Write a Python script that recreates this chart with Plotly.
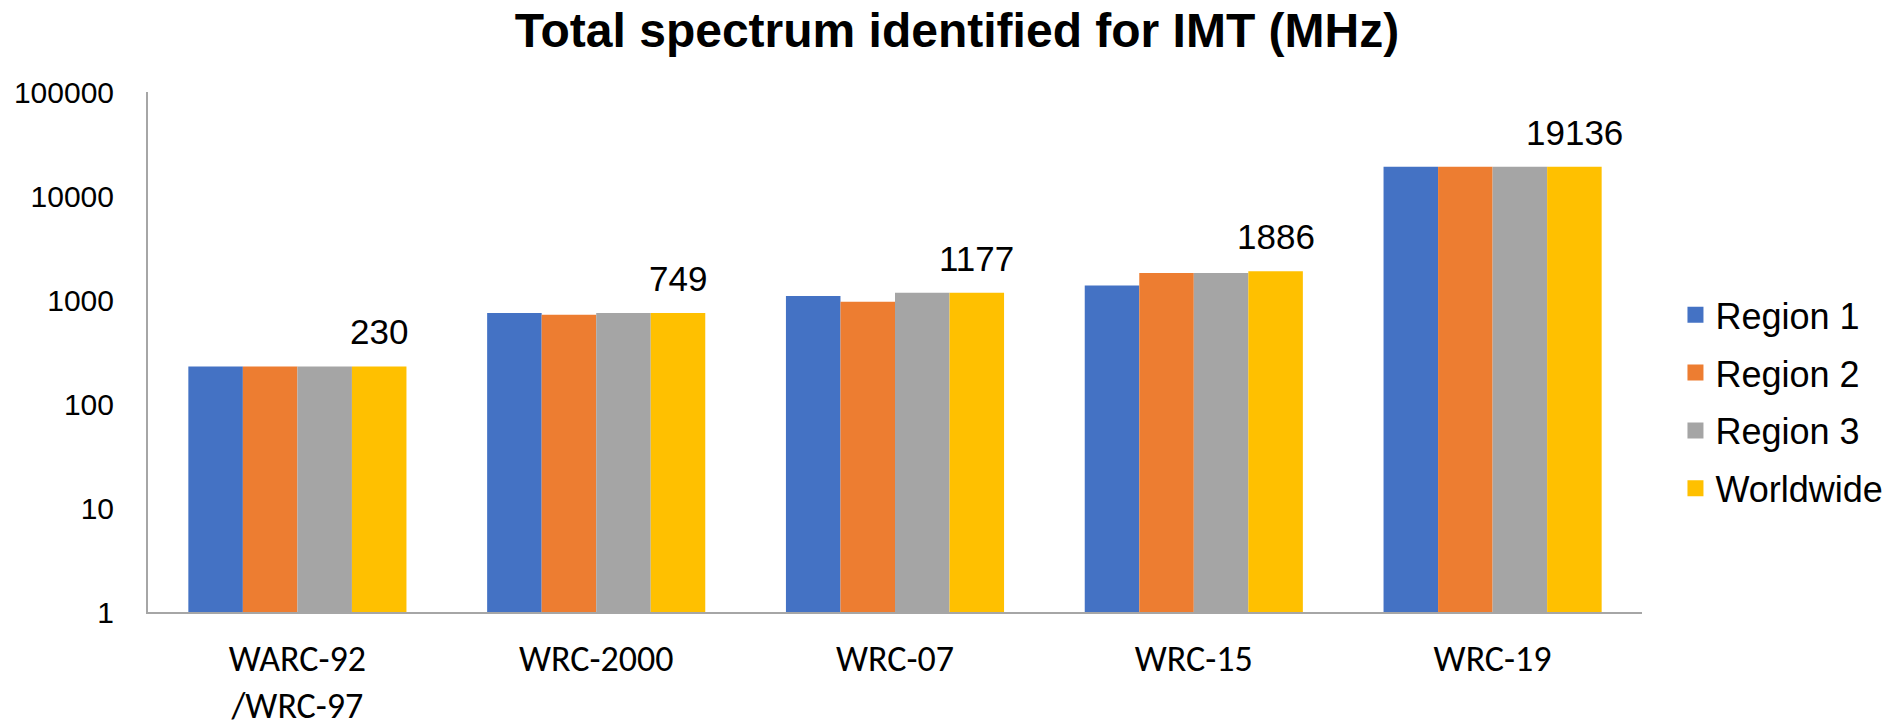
import math
import plotly.graph_objects as go

categories = ["WARC-92/WRC-97", "WRC-2000", "WRC-07", "WRC-15", "WRC-19"]
tick_labels = ["WARC-92<br>/WRC-97", "WRC-2000", "WRC-07", "WRC-15", "WRC-19"]
series_names = ["Region 1", "Region 2", "Region 3", "Worldwide"]
region1 = [230, 749, 1090, 1380, 19136]
region2 = [230, 720, 960, 1816, 19136]
region3 = [230, 749, 1177, 1816, 19136]
worldwide = [230, 749, 1177, 1886, 19136]
y_tick_vals = [1, 10, 100, 1000, 10000, 100000]
y_tick_text = ["1", "10", "100", "1000", "10000", "100000"]

colors = ["#4472C4", "#ED7D31", "#A5A5A5", "#FFC000"]
BARGAP = 0.27
ARIAL = "Liberation Sans, Arial, sans-serif"
CALIBRI = "Calibri, Carlito, Lato, sans-serif"

fig = go.Figure()
all_series = [region1, region2, region3, worldwide]
for name, vals, col in zip(series_names, all_series, colors):
    fig.add_trace(go.Bar(
        x=categories, y=vals, name=name, marker=dict(color=col, line=dict(width=0)),
        showlegend=False,
    ))
# legend proxies (larger squares)
for name, col in zip(series_names, colors):
    fig.add_trace(go.Scatter(
        x=[None], y=[None], mode="markers", name=name, legendgroup=name,
        marker=dict(symbol="square", size=16, color=col),
    ))

# value labels above the Worldwide bars
n_series = len(series_names)
offset = ((n_series - 1) / 2) * (1 - BARGAP) / n_series
for i, v in enumerate(worldwide):
    fig.add_annotation(
        x=i + offset, y=math.log10(v), xref="x", yref="y",
        text=str(v), showarrow=False, yanchor="bottom", yshift=13,
        font=dict(family=ARIAL, size=35, color="#000000"),
    )

# page body has an 8px margin, so the figure is 8px smaller than the window
W, H = 1895, 713
fig.update_layout(
    width=W, height=H,
    paper_bgcolor="white", plot_bgcolor="white",
    barmode="group", bargap=BARGAP, bargroupgap=0,
    margin=dict(l=140, r=261, t=84, b=109, autoexpand=False),
    title=dict(
        text="<b>Total spectrum identified for IMT (MHz)</b>",
        font=dict(family=ARIAL, size=48, color="#000000"),
        x=949 / W, xanchor="center", xref="container",
        y=1 - 22 / H, yanchor="middle", yref="container",
    ),
    legend=dict(
        x=1.0224, xanchor="left", y=0.404, yanchor="middle",
        font=dict(family=ARIAL, size=36, color="#000000"),
        tracegroupgap=8, bgcolor="rgba(0,0,0,0)",
    ),
    xaxis=dict(
        type="category", tickvals=categories, ticktext=tick_labels,
        showline=True, linecolor="#A6A6A6", linewidth=2,
        ticks="", showgrid=False, zeroline=False, automargin=False,
        tickfont=dict(family=CALIBRI, size=36, color="#000000"),
        ticklabelstandoff=14,
    ),
    yaxis=dict(
        type="log", range=[0, 5], tickvals=y_tick_vals, ticktext=y_tick_text,
        showline=True, linecolor="#A6A6A6", linewidth=2,
        ticks="", showgrid=False, zeroline=False, automargin=False,
        tickfont=dict(family=ARIAL, size=30, color="#000000"),
        ticklabelstandoff=26,
    ),
)

fig.write_html("out.html")
